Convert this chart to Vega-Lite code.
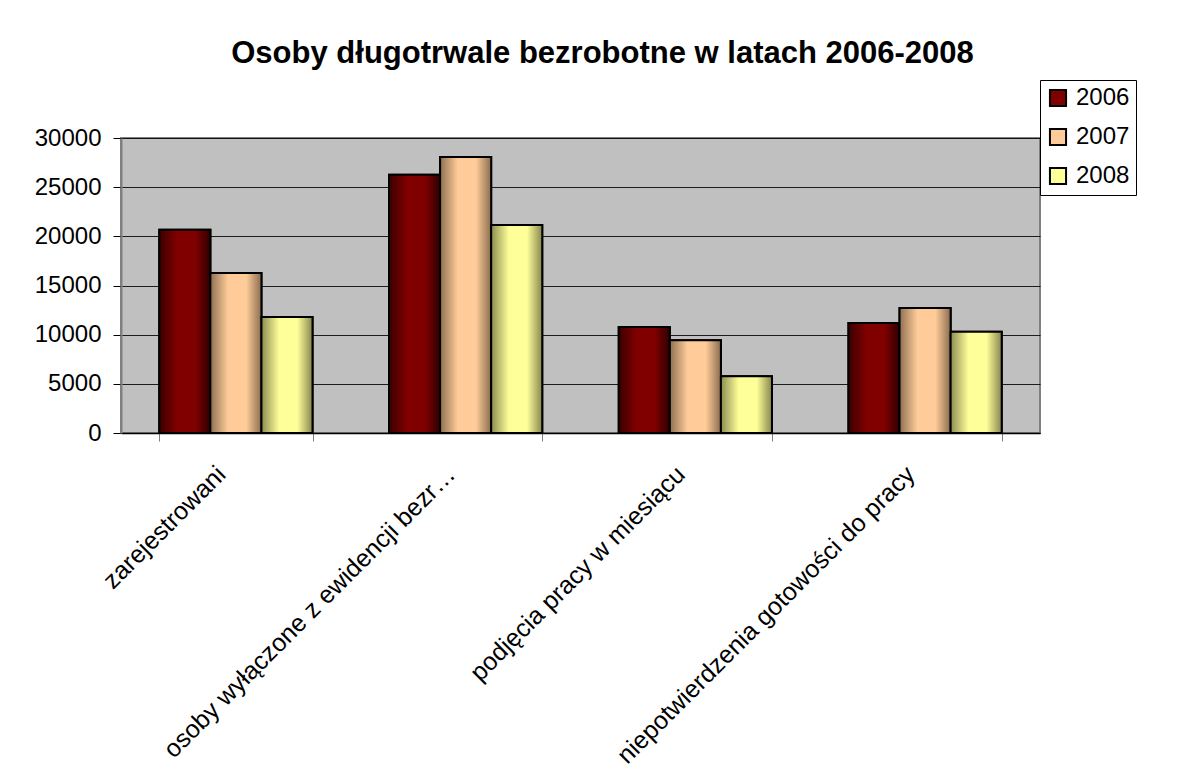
{
  "$schema": "https://vega.github.io/schema/vega-lite/v6.json",
  "width": 919,
  "height": 295,
  "autosize": "none",
  "padding": {"left": 121, "top": 138, "right": 144, "bottom": 340},
  "background": "white",
  "title": {
    "text": "Osoby długotrwale bezrobotne w latach 2006-2008",
    "font": "Liberation Sans",
    "fontSize": 31,
    "fontWeight": "bold",
    "color": "black",
    "anchor": "middle",
    "frame": "group",
    "dx": 22,
    "offset": 10
  },
  "config": {
    "font": "Liberation Sans",
    "view": {"fill": "#C0C0C0", "stroke": "#808080", "strokeWidth": 2}
  },
  "data": {
    "values": [
      {"kategoria": "zarejestrowani", "rok": "2006", "liczba": 20680},
      {"kategoria": "zarejestrowani", "rok": "2007", "liczba": 16270},
      {"kategoria": "zarejestrowani", "rok": "2008", "liczba": 11800},
      {"kategoria": "osoby wyłączone z ewidencji bezr…", "rok": "2006", "liczba": 26270},
      {"kategoria": "osoby wyłączone z ewidencji bezr…", "rok": "2007", "liczba": 28070},
      {"kategoria": "osoby wyłączone z ewidencji bezr…", "rok": "2008", "liczba": 21150},
      {"kategoria": "podjęcia pracy w miesiącu", "rok": "2006", "liczba": 10780},
      {"kategoria": "podjęcia pracy w miesiącu", "rok": "2007", "liczba": 9420},
      {"kategoria": "podjęcia pracy w miesiącu", "rok": "2008", "liczba": 5760},
      {"kategoria": "niepotwierdzenia gotowości do pracy", "rok": "2006", "liczba": 11190},
      {"kategoria": "niepotwierdzenia gotowości do pracy", "rok": "2007", "liczba": 12710},
      {"kategoria": "niepotwierdzenia gotowości do pracy", "rok": "2008", "liczba": 10300}
    ]
  },
  "encoding": {
    "x": {
      "field": "kategoria",
      "type": "nominal",
      "sort": null,
      "scale": {"paddingInner": 0.333, "paddingOuter": 0.1667},
      "axis": {
        "title": null,
        "labelAngle": -45,
        "labelAlign": "right",
        "labelBaseline": "middle",
        "labelFontSize": 25,
        "labelColor": "black",
        "labelPadding": 29,
        "labelOffset": -15,
        "labelLimit": 700,
        "tickBand": "extent",
        "tickSize": 8,
        "tickColor": "#808080",
        "domainColor": "black",
        "domainWidth": 1.5,
        "grid": false
      }
    },
    "xOffset": {
      "field": "rok",
      "type": "nominal",
      "scale": {"domain": ["2006", "2007", "2008"], "paddingInner": 0, "paddingOuter": 0}
    },
    "y": {
      "field": "liczba",
      "type": "quantitative",
      "scale": {"domain": [0, 30000], "nice": false},
      "axis": {
        "title": null,
        "values": [0, 5000, 10000, 15000, 20000, 25000, 30000],
        "format": "d",
        "labelFontSize": 24,
        "labelColor": "black",
        "labelPadding": 12,
        "tickSize": 8,
        "tickColor": "black",
        "domainColor": "#808080",
        "domainWidth": 2,
        "gridColor": "black",
        "gridOpacity": 0.85,
        "gridWidth": 1
      }
    }
  },
  "layer": [
    {
      "mark": {"type": "bar", "stroke": "black", "strokeWidth": 2},
      "encoding": {
        "color": {
          "field": "rok",
          "type": "nominal",
          "scale": {"domain": ["2006", "2007", "2008"], "range": ["#800000", "#FFCC99", "#FFFF99"]},
          "legend": {
            "title": null,
            "orient": "none",
            "legendX": 919,
            "legendY": -58,
            "direction": "vertical",
            "fillColor": "white",
            "strokeColor": "black",
            "padding": 6,
            "symbolType": "square",
            "symbolSize": 260,
            "symbolStrokeColor": "black",
            "symbolStrokeWidth": 2,
            "symbolOpacity": 1,
            "labelFontSize": 24,
            "labelColor": "black",
            "labelOffset": 6,
            "rowPadding": 13
          }
        }
      }
    },
    {
      "transform": [{"filter": "datum.rok == '2006'"}],
      "mark": {
        "type": "bar",
        "stroke": "black",
        "strokeWidth": 2,
        "color": {
          "gradient": "linear", "x1": 0, "x2": 1, "y1": 0, "y2": 0,
          "stops": [
            {"offset": 0, "color": "#3A0000"},
            {"offset": 0.35, "color": "#800000"},
            {"offset": 0.7, "color": "#800000"},
            {"offset": 1, "color": "#2E0000"}
          ]
        }
      }
    },
    {
      "transform": [{"filter": "datum.rok == '2007'"}],
      "mark": {
        "type": "bar",
        "stroke": "black",
        "strokeWidth": 2,
        "color": {
          "gradient": "linear", "x1": 0, "x2": 1, "y1": 0, "y2": 0,
          "stops": [
            {"offset": 0, "color": "#8E7052"},
            {"offset": 0.35, "color": "#FFCC99"},
            {"offset": 0.7, "color": "#FFCC99"},
            {"offset": 1, "color": "#8A6D50"}
          ]
        }
      }
    },
    {
      "transform": [{"filter": "datum.rok == '2008'"}],
      "mark": {
        "type": "bar",
        "stroke": "black",
        "strokeWidth": 2,
        "color": {
          "gradient": "linear", "x1": 0, "x2": 1, "y1": 0, "y2": 0,
          "stops": [
            {"offset": 0, "color": "#8C8C52"},
            {"offset": 0.35, "color": "#FFFF99"},
            {"offset": 0.7, "color": "#FFFF99"},
            {"offset": 1, "color": "#86864F"}
          ]
        }
      }
    }
  ]
}
